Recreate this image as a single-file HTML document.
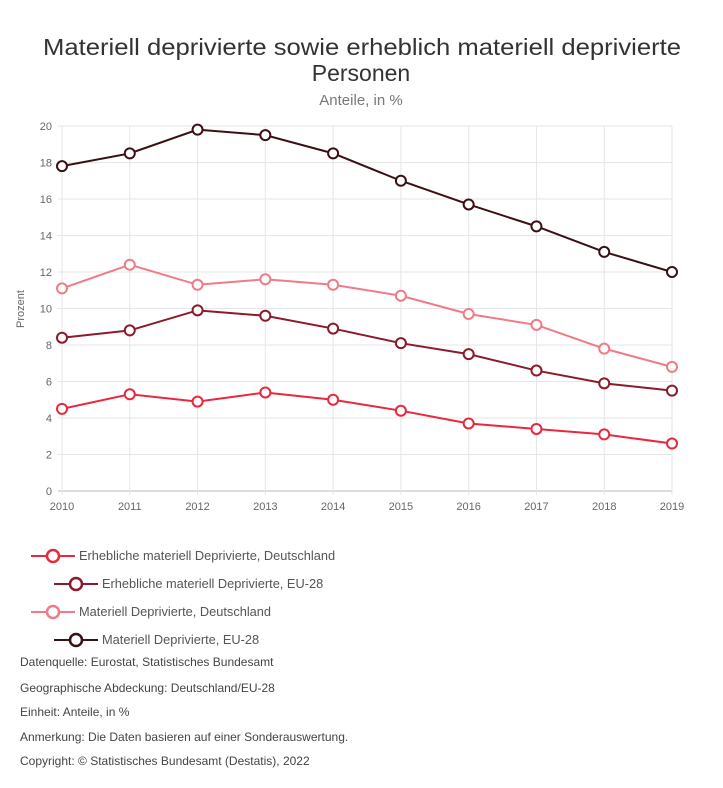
<!DOCTYPE html>
<html><head><meta charset="utf-8"><style>
body{margin:0;background:#fff;font-family:"Liberation Sans",sans-serif;}
svg text{font-family:"Liberation Sans",sans-serif;}
</style></head><body>
<svg width="723" height="783" xmlns="http://www.w3.org/2000/svg">
<text x="362" y="55" text-anchor="middle" font-size="23" fill="#333" textLength="638" lengthAdjust="spacingAndGlyphs">Materiell deprivierte sowie erheblich materiell deprivierte</text>
<text x="361" y="81" text-anchor="middle" font-size="23" fill="#333">Personen</text>
<text x="361" y="105" text-anchor="middle" font-size="15" fill="#777">Anteile, in %</text>
<text transform="translate(24,309) rotate(-90)" text-anchor="middle" font-size="11" fill="#666">Prozent</text>
<g id="grid"></g><g id="series"></g><g id="legend"></g>
<g font-size="12" fill="#444">
<text x="20" y="666">Datenquelle: Eurostat, Statistisches Bundesamt</text>
<text x="20" y="692">Geographische Abdeckung: Deutschland/EU-28</text>
<text x="20" y="716">Einheit: Anteile, in %</text>
<text x="20" y="741">Anmerkung: Die Daten basieren auf einer Sonderauswertung.</text>
<text x="20" y="765">Copyright: © Statistisches Bundesamt (Destatis), 2022</text>
</g>
</svg>
<script>
const years=[2010,2011,2012,2013,2014,2015,2016,2017,2018,2019];
const yTicks=[0,2,4,6,8,10,12,14,16,18,20];
const deErheblich=[4.5,5.3,4.9,5.4,5.0,4.4,3.7,3.4,3.1,2.6];
const euErheblich=[8.4,8.8,9.9,9.6,8.9,8.1,7.5,6.6,5.9,5.5];
const deMateriell=[11.1,12.4,11.3,11.6,11.3,10.7,9.7,9.1,7.8,6.8];
const euMateriell=[17.8,18.5,19.8,19.5,18.5,17.0,15.7,14.5,13.1,12.0];
const seriesNames=["Erhebliche materiell Deprivierte, Deutschland","Erhebliche materiell Deprivierte, EU-28","Materiell Deprivierte, Deutschland","Materiell Deprivierte, EU-28"];
const NS="http://www.w3.org/2000/svg";
const x0=62,x1=672,yTop=126,yBot=491;
const xs=i=>x0+(x1-x0)*i/(years.length-1);
const ys=v=>yBot-(yBot-yTop)*v/20;
function mk(t,a,p){const e=document.createElementNS(NS,t);for(const k in a)e.setAttribute(k,a[k]);p.appendChild(e);return e;}
const grid=document.getElementById('grid');
yTicks.forEach(v=>{
 const l=mk('line',{x1:x0-4,x2:x1,y1:ys(v),y2:ys(v),stroke:v===0?'#bbb':'#e6e6e6'},grid);
 
 
 const t=mk('text',{x:x0-10,y:ys(v)+4,'text-anchor':'end','font-size':11,fill:'#666'},grid);t.textContent=v;
 
 
});
years.forEach((yr,i)=>{
 const l=mk('line',{x1:xs(i),x2:xs(i),y1:yTop,y2:yBot+4,stroke:'#e6e6e6'},grid);
 
 
 const t=mk('text',{x:xs(i),y:yBot+19,'text-anchor':'middle','font-size':11,fill:'#666'},grid);t.textContent=yr;
 
 
});
const data=[deErheblich,euErheblich,deMateriell,euMateriell];
const colors=['#e8283c','#8b1a2b','#f07a88','#3a1015'];
const sg=document.getElementById('series');
data.forEach((d,s)=>{
 const g=mk('g',{},sg);
 
 
 const p=mk('polyline',{points:d.map((v,i)=>xs(i)+','+ys(v)).join(' '),fill:'none',stroke:colors[s],'stroke-width':2},g);
 
 
 d.forEach((v,i)=>{
  const c=mk('circle',{cx:xs(i),cy:ys(v),r:5,fill:'#fff',stroke:colors[s],'stroke-width':2},g);
  
  
 });
});
const lg=document.getElementById('legend');
const lx=[31,54,31,54],ly=[556,584,612,640];
seriesNames.forEach((n,s)=>{
 const g=mk('g',{},lg);
 
 
 mk('line',{x1:lx[s],x2:lx[s]+44,y1:ly[s],y2:ly[s],stroke:colors[s],'stroke-width':2},g);
 mk('circle',{cx:lx[s]+22,cy:ly[s],r:6,fill:'#fff',stroke:colors[s],'stroke-width':2.5},g);
 const t=mk('text',{x:lx[s]+48,y:ly[s]+4,'font-size':12.8,fill:'#555'},g);t.textContent=n;
});
</script>
</body></html>
